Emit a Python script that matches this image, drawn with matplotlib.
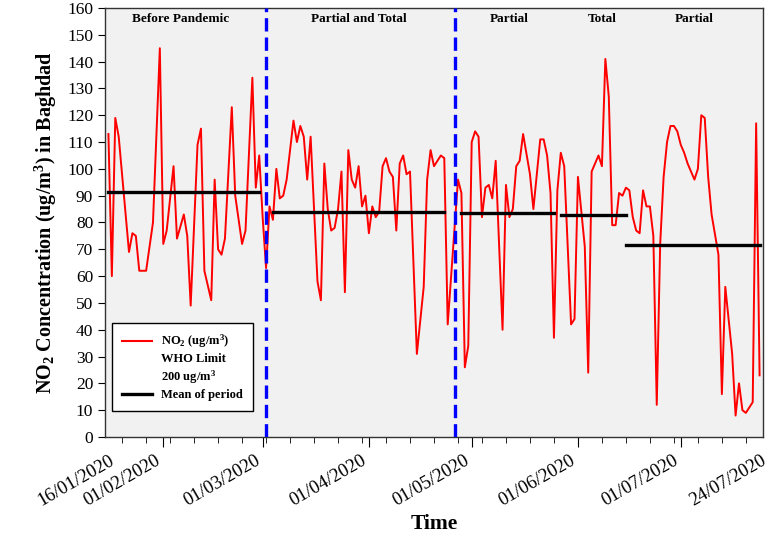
import numpy as np
import pandas as pd
import matplotlib
matplotlib.use("Agg")
import matplotlib.pyplot as plt
import matplotlib.dates as mdates
import matplotlib.transforms as mtransforms
from matplotlib.lines import Line2D

plt.rcParams['font.family'] = ['Liberation Serif', 'DejaVu Serif']
plt.rcParams['mathtext.fontset'] = 'custom'
plt.rcParams['mathtext.rm'] = 'Liberation Serif:bold'
plt.rcParams['mathtext.bf'] = 'Liberation Serif:bold'
plt.rcParams['mathtext.it'] = 'Liberation Serif:bold'

# daily NO2 readings (gaps are missing days)
dates = ["2020-01-16", "2020-01-17", "2020-01-18", "2020-01-19", "2020-01-22", "2020-01-23",
         "2020-01-24", "2020-01-25", "2020-01-27", "2020-01-29", "2020-01-31", "2020-02-01",
         "2020-02-02", "2020-02-04", "2020-02-05", "2020-02-07", "2020-02-08", "2020-02-09",
         "2020-02-11", "2020-02-12", "2020-02-13", "2020-02-15", "2020-02-16", "2020-02-17",
         "2020-02-18", "2020-02-19", "2020-02-21", "2020-02-22", "2020-02-24", "2020-02-25",
         "2020-02-27", "2020-02-28", "2020-02-29", "2020-03-01", "2020-03-02", "2020-03-03",
         "2020-03-04", "2020-03-05", "2020-03-06", "2020-03-07", "2020-03-08", "2020-03-10",
         "2020-03-11", "2020-03-12", "2020-03-13", "2020-03-14", "2020-03-15", "2020-03-17",
         "2020-03-18", "2020-03-19", "2020-03-20", "2020-03-21", "2020-03-22", "2020-03-23",
         "2020-03-24", "2020-03-25", "2020-03-26", "2020-03-27", "2020-03-28", "2020-03-29",
         "2020-03-30", "2020-03-31", "2020-04-01", "2020-04-02", "2020-04-03", "2020-04-04",
         "2020-04-05", "2020-04-06", "2020-04-07", "2020-04-08", "2020-04-09", "2020-04-10",
         "2020-04-11", "2020-04-12", "2020-04-13", "2020-04-15", "2020-04-17", "2020-04-18",
         "2020-04-19", "2020-04-20", "2020-04-21", "2020-04-22", "2020-04-23", "2020-04-24",
         "2020-04-27", "2020-04-28", "2020-04-29", "2020-04-30", "2020-05-01", "2020-05-02",
         "2020-05-03", "2020-05-04", "2020-05-05", "2020-05-06", "2020-05-07", "2020-05-08",
         "2020-05-10", "2020-05-11", "2020-05-12", "2020-05-13", "2020-05-14", "2020-05-15",
         "2020-05-16", "2020-05-18", "2020-05-19", "2020-05-21", "2020-05-22", "2020-05-23",
         "2020-05-24", "2020-05-25", "2020-05-26", "2020-05-27", "2020-05-28", "2020-05-30",
         "2020-05-31", "2020-06-01", "2020-06-03", "2020-06-04", "2020-06-05", "2020-06-06",
         "2020-06-07", "2020-06-08", "2020-06-09", "2020-06-10", "2020-06-11", "2020-06-12",
         "2020-06-13", "2020-06-14", "2020-06-15", "2020-06-16", "2020-06-17", "2020-06-18",
         "2020-06-19", "2020-06-20", "2020-06-21", "2020-06-22", "2020-06-23", "2020-06-24",
         "2020-06-25", "2020-06-26", "2020-06-27", "2020-06-28", "2020-06-29", "2020-06-30",
         "2020-07-01", "2020-07-02", "2020-07-03", "2020-07-05", "2020-07-06", "2020-07-07",
         "2020-07-08", "2020-07-09", "2020-07-10", "2020-07-12", "2020-07-13", "2020-07-14",
         "2020-07-16", "2020-07-17", "2020-07-18", "2020-07-19", "2020-07-20", "2020-07-22",
         "2020-07-23", "2020-07-24"]
no2 = [113, 60, 119, 112, 69, 76,
       75, 62, 62, 80, 145, 72,
       77, 101, 74, 83, 75, 49,
       109, 115, 62, 51, 96, 70,
       68, 74, 123, 90, 72, 77,
       134, 93, 105, 82, 63, 86,
       81, 100, 89, 90, 96, 118,
       110, 116, 112, 96, 112, 58,
       51, 102, 85, 77, 78, 85,
       99, 54, 107, 96, 93, 101,
       86, 90, 76, 86, 82, 84,
       101, 104, 99, 97, 77, 102,
       105, 98, 99, 31, 56, 96,
       107, 101, 103, 105, 104, 42,
       96, 91, 26, 34, 110, 114,
       112, 82, 93, 94, 89, 103,
       40, 94, 82, 85, 101, 103,
       113, 98, 85, 111, 111, 105,
       91, 37, 92, 106, 101, 42,
       44, 97, 71, 24, 99, 102,
       105, 101, 141, 127, 79, 79,
       91, 90, 93, 92, 82, 77,
       76, 92, 86, 86, 75, 12,
       72, 97, 110, 116, 116, 114,
       109, 106, 102, 96, 100, 120,
       119, 97, 83, 68, 16, 56,
       31, 8, 20, 10, 9, 13,
       117, 23]

# period means
mean_start = ["2020-01-16", "2020-03-04", "2020-04-28", "2020-05-27", "2020-06-15"]
mean_end = ["2020-02-29", "2020-04-23", "2020-05-25", "2020-06-15", "2020-07-24"]
mean_val = [91.5, 83.8, 83.5, 82.8, 71.6]

# period boundaries and names
boundaries = ["2020-03-02", "2020-04-26"]
period_names = ["Before Pandemic", "Partial and Total", "Partial", "Total", "Partial"]
period_label_x = ["2020-02-06", "2020-03-29", "2020-05-12", "2020-06-08", "2020-07-05"]

tick_dates = ["2020-01-16", "2020-02-01", "2020-03-01", "2020-04-01", "2020-05-01",
              "2020-06-01", "2020-07-01", "2020-07-24"]

t = pd.to_datetime(dates)

fig = plt.figure(figsize=(7.71, 5.37), dpi=100)
ax = fig.add_axes([105 / 771, 1 - 437 / 537, 658 / 771, 429 / 537])
ax.set_facecolor('#f1f1f1')

ax.plot(t, no2, color='red', lw=1.4, zorder=3)

for s, e, m in zip(mean_start, mean_end, mean_val):
    ax.plot(pd.to_datetime([s, e]), [m, m], color='black', lw=2.4, zorder=4)

for b in boundaries:
    ax.axvline(pd.Timestamp(b), color='blue', lw=2.4, ls=(0, (4, 1.8)), zorder=5)

for name, xl in zip(period_names, period_label_x):
    ax.text(pd.Timestamp(xl), 156, name, ha='center', va='center',
            fontsize=9.5, fontweight='bold')

ax.set_xlim(pd.Timestamp("2020-01-15"), pd.Timestamp("2020-07-25"))
ax.set_ylim(0, 160)
ax.set_yticks(np.arange(0, 161, 10))

ax.xaxis.set_major_locator(matplotlib.ticker.FixedLocator(mdates.date2num(pd.to_datetime(tick_dates))))
ax.xaxis.set_major_formatter(mdates.DateFormatter('%d/%m/%Y'))
ax.xaxis.set_minor_locator(mdates.WeekdayLocator(byweekday=mdates.MO))
ax.tick_params(axis='both', direction='out')
ax.tick_params(axis='y', length=5, labelsize=12.5)
ax.tick_params(axis='x', which='major', length=7, pad=9, labelsize=13.5)
ax.tick_params(axis='x', which='minor', length=4)
for lab in ax.get_xticklabels():
    lab.set_rotation(30)
    lab.set_ha('right')
    lab.set_va('center')
    lab.set_rotation_mode('anchor')
ticks = ax.xaxis.get_major_ticks()
for i, tk in enumerate(ticks):
    dx = 5 if i in (0, len(ticks) - 1) else -4
    tk.label1.set_transform(tk.label1.get_transform()
                            + mtransforms.ScaledTranslation(dx / 100, 0, fig.dpi_scale_trans))
for tk in (ticks[0], ticks[-1]):
    tk.tick1line.set_visible(False)

for sp in ax.spines.values():
    sp.set_color('#333333')
    sp.set_linewidth(1.0)

ax.set_ylabel(r"NO$_2$ Concentration (ug/m$^3$) in Baghdad", fontsize=14.5,
              fontweight='bold', labelpad=6)
ax.set_xlabel("Time", fontsize=15.5, fontweight='bold', labelpad=3)

handles = [Line2D([], [], color='red', lw=1.5),
           Line2D([], [], color='none'),
           Line2D([], [], color='none'),
           Line2D([], [], color='black', lw=2.4)]
labels = [r"NO$_2$ (ug/m$^3$)", "WHO Limit", r"200 ug/m$^3$", "Mean of period"]
leg = ax.legend(handles, labels, loc='lower left', bbox_to_anchor=(0.011, 0.06),
                borderaxespad=0, fancybox=False, edgecolor='black', framealpha=1,
                prop={'size': 9, 'weight': 'bold'}, handlelength=2.4,
                labelspacing=0.25, borderpad=0.8, handletextpad=0.7)
leg.get_frame().set_linewidth(1.0)
leg.set_zorder(6)

fig.savefig("out.png", dpi=100)
